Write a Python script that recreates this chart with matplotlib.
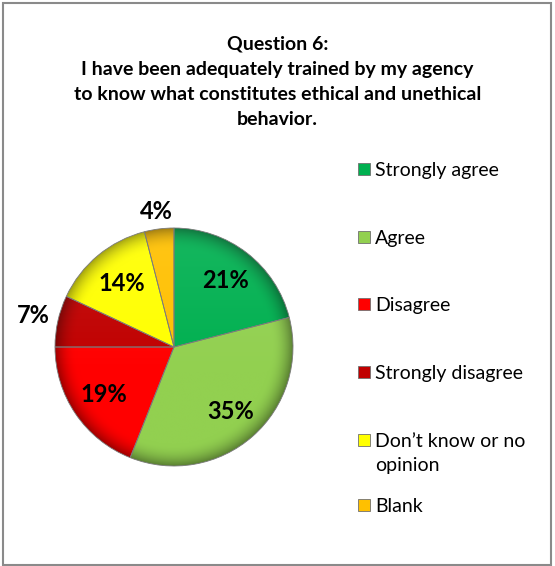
import numpy as np
import matplotlib
matplotlib.use("Agg")
import matplotlib.pyplot as plt
from matplotlib.patches import Rectangle
from matplotlib.colors import to_rgb

plt.rcParams['font.family'] = ['Lato', 'DejaVu Sans']

categories = ["Strongly agree", "Agree", "Disagree", "Strongly disagree",
              "Don\u2019t know or no\nopinion", "Blank"]
percent = [21, 35, 19, 7, 14, 4]
colors = ["#00B050", "#92D050", "#FF0000", "#C00000", "#FFFF00", "#FFC000"]
title_lines = ["Question 6:",
               "I have been adequately trained by my agency",
               "to know what constitutes ethical and unethical",
               "behavior."]

W, H = 555, 566
fig = plt.figure(figsize=(W / 100, H / 100), dpi=100)

# outer frame
fig.patches.append(Rectangle((2.5 / W, 1.5 / H), 548.5 / W, 562 / H,
                             transform=fig.transFigure, fill=False,
                             edgecolor="#8a8a8a", linewidth=1.5))

# title, one baseline every 25 px
for i, line in enumerate(title_lines):
    fig.text(0.5, 1 - (50 + 25 * i) / H, line, ha="center", va="baseline",
             fontsize=14, fontweight="bold")

# pie axes: center (174, 347) px, radius 119 px
cx, cy, r = 174, 347, 119
ax = fig.add_axes([(cx - r) / W, (H - cy - r) / H, 2 * r / W, 2 * r / H])
wedges, _ = ax.pie(percent, colors=colors, startangle=90, counterclock=False,
                   radius=1, wedgeprops=dict(edgecolor="#7a7a7a", linewidth=0.6))
ax.set_xlim(-1, 1)
ax.set_ylim(-1, 1)
ax.set_aspect("equal")
ax.axis("off")

# bevel-like shading inside each wedge
n = 400
xx, yy = np.meshgrid(np.linspace(-1, 1, n), np.linspace(1, -1, n))
rr = np.hypot(xx, yy)
shade = np.clip(1 - 0.38 * np.clip((rr - 0.82) / 0.18, 0, 1) ** 2, 0, 1)
light = 0.12 * np.clip((yy + 0.2), 0, 1)
for w, c in zip(wedges, colors):
    base = np.array(to_rgb(c))
    img = base[None, None, :] * shade[..., None]
    img = img + (1 - img) * light[..., None] * 0.6
    im = ax.imshow(np.clip(img, 0, 1), extent=(-1, 1, -1, 1), zorder=1.5,
                   interpolation="bilinear")
    im.set_clip_path(w)
    w.set_zorder(2)
    w.set_facecolor("none")

# percentage labels
dist = [0.71, 0.72, 0.71, 1.21, 0.69, 1.15]
for w, p, d in zip(wedges, percent, dist):
    ang = np.deg2rad((w.theta1 + w.theta2) / 2)
    ax.text(d * np.cos(ang), d * np.sin(ang), f"{p}%", ha="center", va="center",
            fontsize=17, fontweight="bold", zorder=5, clip_on=False)

# legend
leg_y = [169, 237, 304, 372, 440, 505]
for lab, c, y in zip(categories, colors, leg_y):
    fig.patches.append(Rectangle((358 / W, 1 - (y + 6) / H), 12 / W, 12 / H,
                                 transform=fig.transFigure, facecolor=c,
                                 edgecolor="#707070", linewidth=0.6))
    for j, part in enumerate(lab.split("\n")):
        fig.text(375 / W, 1 - (y + 7 + 24 * j) / H, part, ha="left",
                 va="baseline", fontsize=14)

fig.savefig("out.png", dpi=100)
